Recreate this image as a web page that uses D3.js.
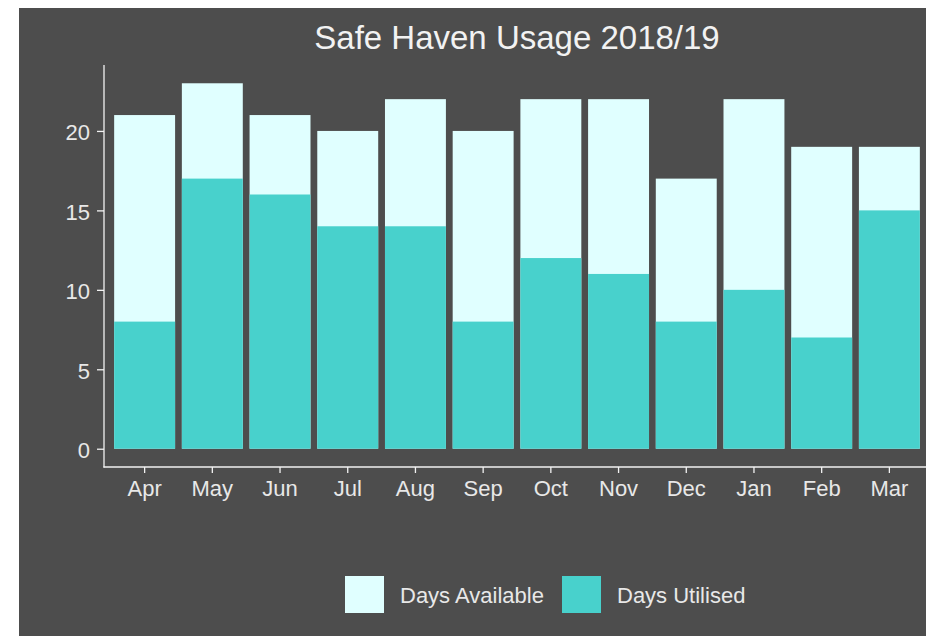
<!DOCTYPE html>
<html>
<head>
<meta charset="utf-8">
<script src="https://cdn.jsdelivr.net/npm/d3@7"></script>
<style>
  html, body { margin: 0; padding: 0; background: #ffffff; }
  svg { display: block; }
  text { font-family: "Liberation Sans", Arial, sans-serif; }
</style>
</head>
<body>
<svg id="chart" width="926" height="636"></svg>
<script>
const months = ["Apr","May","Jun","Jul","Aug","Sep","Oct","Nov","Dec","Jan","Feb","Mar"];
const daysAvailable = [21, 23, 21, 20, 22, 20, 22, 22, 17, 22, 19, 19];
const daysUtilised  = [8, 17, 16, 14, 14, 8, 12, 11, 8, 10, 7, 15];
const yTicks = [0, 5, 10, 15, 20];
const seriesNames = ["Days Available", "Days Utilised"];
const seriesColors = ["#e0ffff", "#48d1cc"];
const titleText = "Safe Haven Usage 2018/19";

const svg = d3.select("#chart");
const bg = "#4d4d4d";
const textCol = "#e8e8e8";
const axisCol = "#f2f2f2";

svg.append("rect").attr("x", 19).attr("y", 8).attr("width", 926 - 19).attr("height", 636 - 8).attr("fill", bg);

const x = d3.scaleBand().domain(months).range([104, 930]).paddingInner(0.1).paddingOuter(0.15);
const y = d3.scaleLinear().domain([-1.15, 24.15]).range([467, 65]);

// bars
const g = svg.append("g");
g.selectAll("rect.avail").data(months).join("rect")
  .attr("class", "avail")
  .attr("x", d => x(d)).attr("width", x.bandwidth())
  .attr("y", (d, i) => y(daysAvailable[i])).attr("height", (d, i) => y(0) - y(daysAvailable[i]))
  .attr("fill", seriesColors[0]);
g.selectAll("rect.util").data(months).join("rect")
  .attr("class", "util")
  .attr("x", d => x(d)).attr("width", x.bandwidth())
  .attr("y", (d, i) => y(daysUtilised[i])).attr("height", (d, i) => y(0) - y(daysUtilised[i]))
  .attr("fill", seriesColors[1]);

// axes
const yAxis = svg.append("g").attr("transform", "translate(104,0)")
  .call(d3.axisLeft(y).tickValues(yTicks).tickSize(7).tickPadding(7));
const xAxis = svg.append("g").attr("transform", "translate(0,467)")
  .call(d3.axisBottom(x).tickSize(6).tickPadding(7));
[yAxis, xAxis].forEach(a => {
  a.select(".domain").remove();
  a.selectAll(".tick line").attr("stroke", axisCol).attr("stroke-width", 1.3);
  a.selectAll(".tick text").attr("fill", textCol).attr("font-size", 22)
    .attr("font-family", "'Liberation Sans', Arial, sans-serif");
});
yAxis.selectAll(".tick text").attr("dy", "0.4em");
svg.append("line").attr("x1", 104).attr("x2", 104).attr("y1", y.range()[1]).attr("y2", 467.6)
  .attr("stroke", axisCol).attr("stroke-width", 1.3);
svg.append("line").attr("x1", 103.4).attr("x2", 930).attr("y1", 467).attr("y2", 467)
  .attr("stroke", axisCol).attr("stroke-width", 1.3);

// title
svg.append("text").attr("x", 517).attr("y", 49).attr("text-anchor", "middle")
  .attr("fill", "#f2f2f2").attr("font-size", 33).text(titleText);

// legend
const legendX = [345, 562];
const leg = svg.append("g");
seriesNames.forEach((name, i) => {
  leg.append("rect").attr("x", legendX[i]).attr("y", 576).attr("width", 39).attr("height", 37)
    .attr("fill", seriesColors[i]);
  leg.append("text").attr("x", legendX[i] + 55).attr("y", 595).attr("dy", "0.35em")
    .attr("fill", textCol).attr("font-size", 22).text(name);
});
</script>
</body>
</html>
